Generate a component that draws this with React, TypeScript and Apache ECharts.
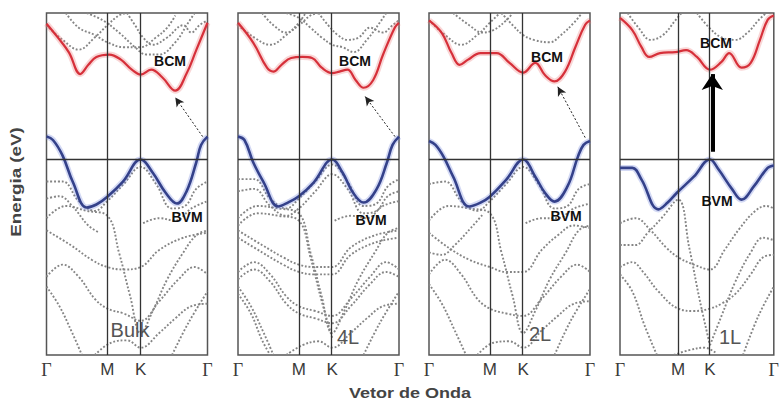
import React, { useEffect, useRef } from 'react';
import * as echarts from 'echarts';

// ---- axis / tick data ----
const kTicks = [0, 0.378, 0.585, 1];
const kLabels = ['Γ', 'M', 'K', 'Γ'];
const panelNames = ['Bulk', '4L', '2L', '1L'];
const eMin = -4;
const eMax = 3;
const fermiLevel = 0;

// ---- highlighted bands (k, E) ----
const cbmBulk = [[0, 2.78], [0.07, 2.5], [0.14, 2.19], [0.21, 1.75], [0.26, 1.94], [0.31, 2.1], [0.39, 2.15], [0.46, 2.05], [0.53, 1.84], [0.585, 1.74], [0.65, 1.84], [0.72, 1.68], [0.8, 1.41], [0.87, 1.76], [0.93, 2.24], [1, 2.8]];
const vbmBulk = [[0, 0.47], [0.04, 0.4], [0.1, 0.08], [0.165, -0.47], [0.25, -0.98], [0.31, -0.92], [0.378, -0.76], [0.475, -0.45], [0.585, 0], [0.66, -0.27], [0.74, -0.68], [0.81, -0.9], [0.87, -0.65], [0.93, -0.06], [0.96, 0.3], [1, 0.47]];
const cbm4L = [[0, 2.8], [0.095, 2.39], [0.18, 1.88], [0.22, 1.8], [0.27, 1.94], [0.33, 2.08], [0.4, 2.1], [0.46, 2.08], [0.52, 1.88], [0.585, 1.77], [0.63, 1.8], [0.68, 1.84], [0.73, 1.63], [0.78, 1.47], [0.84, 1.63], [0.9, 2.14], [0.975, 2.71], [1, 2.8]];
const vbm4L = [[0, 0.47], [0.04, 0.4], [0.095, -0.06], [0.16, -0.47], [0.25, -0.96], [0.31, -0.88], [0.378, -0.75], [0.47, -0.47], [0.585, 0], [0.65, -0.27], [0.715, -0.68], [0.78, -0.88], [0.86, -0.61], [0.925, -0.06], [0.96, 0.3], [1, 0.47]];
const cbm2L = [[0, 2.85], [0.08, 2.59], [0.14, 2.18], [0.19, 1.94], [0.24, 2.04], [0.32, 2.18], [0.42, 2.18], [0.5, 1.98], [0.585, 1.78], [0.66, 1.98], [0.72, 1.73], [0.78, 1.6], [0.845, 1.8], [0.91, 2.31], [0.97, 2.76], [1, 2.85]];
const vbm2L = [[0, 0.38], [0.04, 0.3], [0.09, 0.06], [0.15, -0.35], [0.25, -0.96], [0.32, -0.88], [0.378, -0.76], [0.48, -0.41], [0.585, 0], [0.66, -0.35], [0.72, -0.68], [0.78, -0.86], [0.86, -0.55], [0.925, 0.06], [0.96, 0.3], [1, 0.38]];
const cbm1L = [[0, 2.9], [0.08, 2.65], [0.14, 2.3], [0.19, 2.1], [0.26, 2.18], [0.36, 2.2], [0.43, 2.24], [0.5, 2.1], [0.585, 1.84], [0.66, 2.0], [0.71, 2.18], [0.79, 1.88], [0.85, 1.98], [0.91, 2.45], [0.96, 2.86], [1, 2.95]];
const vbm1L = [[0, -0.17], [0.08, -0.17], [0.14, -0.41], [0.25, -1.02], [0.31, -0.88], [0.37, -0.68], [0.48, -0.35], [0.585, 0], [0.64, -0.2], [0.73, -0.61], [0.79, -0.82], [0.87, -0.55], [0.96, -0.17], [1, -0.12]];

// ---- other (grey) bands ----
const greyBulk = [
  [[0, -0.45], [0.1, -0.45], [0.2, -0.85], [0.3, -1.05], [0.378, -0.85], [0.48, -0.5], [0.585, -0.15], [0.68, -0.5], [0.78, -1.0], [0.86, -0.95], [0.93, -0.6], [1, -0.45]],
  [[0, -0.8], [0.08, -0.75], [0.16, -0.95], [0.26, -1.35], [0.33, -1.5]],
  [[0, -1.2], [0.12, -0.95], [0.25, -1.05], [0.378, -1.15], [0.45, -1.9], [0.52, -2.8], [0.585, -3.55], [0.66, -3.1], [0.75, -2.45], [0.85, -1.9], [0.93, -1.55], [1, -1.45]],
  [[0, -1.45], [0.15, -1.75], [0.28, -2.05], [0.378, -2.2], [0.48, -2.25], [0.585, -2.2], [0.7, -1.85], [0.85, -1.6], [1, -1.5]],
  [[0.6, -1.3], [0.7, -1.2], [0.8, -1.25], [0.9, -1.0], [1, -0.85]],
  [[0, -2.4], [0.1, -2.15], [0.2, -2.4], [0.3, -2.85], [0.378, -3.05], [0.48, -3.15], [0.585, -3.3], [0.7, -2.9], [0.82, -2.45], [0.92, -2.2], [1, -2.35]],
  [[0, -2.6], [0.08, -3.0], [0.16, -3.55], [0.22, -4.0]],
  [[0.78, -4.0], [0.88, -3.35], [1, -2.7]],
  [[0.3, -4.0], [0.4, -3.75], [0.5, -3.7], [0.585, -3.85], [0.7, -3.55], [0.8, -3.25], [0.9, -3.0], [1, -2.95]],
  [[0, 2.75], [0.1, 2.45], [0.2, 2.25], [0.3, 2.5], [0.378, 2.75], [0.45, 2.95], [0.5, 3.0]],
  [[0.12, 3.0], [0.2, 2.7], [0.3, 2.55], [0.378, 2.4], [0.48, 2.3], [0.585, 2.3], [0.68, 2.5], [0.75, 2.7], [0.8, 2.95]],
  [[0.5, 3.0], [0.55, 2.75], [0.6, 2.5], [0.66, 2.35], [0.75, 2.5], [0.85, 2.75], [0.9, 2.6], [0.95, 2.75], [1, 2.85]],
  [[0.25, 3.0], [0.35, 2.85], [0.45, 2.6], [0.55, 2.3], [0.62, 2.15], [0.7, 2.15], [0.8, 2.4], [0.88, 2.8], [0.92, 3.0]],
];
const grey4L = [
  [[0, -0.4], [0.1, -0.4], [0.2, -0.8], [0.3, -1.0], [0.378, -0.8], [0.48, -0.45], [0.585, -0.1], [0.68, -0.45], [0.78, -0.95], [0.86, -0.9], [0.93, -0.55], [1, -0.4]],
  [[0, -0.65], [0.1, -0.6], [0.2, -0.95], [0.3, -1.15], [0.378, -1.0], [0.48, -0.65], [0.585, -0.3], [0.68, -0.6], [0.78, -1.1], [0.86, -1.05], [0.93, -0.75], [1, -0.65]],
  [[0, -1.2], [0.12, -0.95], [0.25, -1.0], [0.378, -1.1], [0.45, -1.9], [0.52, -2.8], [0.585, -3.55], [0.66, -3.1], [0.75, -2.45], [0.85, -1.9], [0.93, -1.5], [1, -1.4]],
  [[0, -1.35], [0.12, -1.1], [0.25, -1.15], [0.378, -1.25], [0.45, -2.0], [0.52, -2.9], [0.585, -3.65]],
  [[0, -1.45], [0.15, -1.75], [0.28, -2.0], [0.378, -2.15], [0.48, -2.2], [0.585, -2.2], [0.7, -1.8], [0.85, -1.55], [1, -1.45]],
  [[0, -1.6], [0.15, -1.9], [0.28, -2.15], [0.378, -2.3], [0.48, -2.35], [0.585, -2.35], [0.7, -1.95], [0.85, -1.7], [1, -1.6]],
  [[0.6, -1.25], [0.7, -1.15], [0.8, -1.2], [0.9, -0.95], [1, -0.85]],
  [[0, -2.3], [0.1, -2.1], [0.2, -2.35], [0.3, -2.8], [0.378, -3.0], [0.48, -3.1], [0.585, -3.2], [0.7, -2.85], [0.82, -2.4], [0.92, -2.1], [1, -2.25]],
  [[0, -2.45], [0.1, -2.25], [0.2, -2.5], [0.3, -2.95], [0.378, -3.15], [0.48, -3.25], [0.585, -3.35], [0.7, -3.0], [0.82, -2.55], [0.92, -2.3], [1, -2.4]],
  [[0, -2.6], [0.08, -3.0], [0.16, -3.55], [0.22, -4.0]],
  [[0, -2.75], [0.08, -3.15], [0.15, -3.7], [0.2, -4.0]],
  [[0.78, -4.0], [0.88, -3.35], [1, -2.7]],
  [[0.3, -4.0], [0.4, -3.8], [0.5, -3.72], [0.585, -3.85], [0.7, -3.55], [0.8, -3.25], [0.9, -3.0], [1, -2.95]],
  [[0, 2.75], [0.1, 2.5], [0.2, 2.35], [0.3, 2.55], [0.378, 2.8], [0.42, 3.0]],
  [[0.15, 3.0], [0.22, 2.75], [0.3, 2.6], [0.378, 2.75], [0.45, 2.95], [0.5, 3.0]],
  [[0.3, 3.0], [0.378, 2.9], [0.45, 2.7], [0.52, 2.5], [0.585, 2.35], [0.65, 2.3], [0.72, 2.2], [0.8, 2.45], [0.88, 2.8], [0.92, 3.0]],
  [[0.5, 3.0], [0.56, 2.75], [0.62, 2.55], [0.68, 2.45], [0.75, 2.5], [0.82, 2.7], [0.9, 2.6], [0.96, 2.75], [1, 2.85]],
];
const grey2L = [
  [[0, -0.5], [0.1, -0.45], [0.2, -0.85], [0.3, -1.05], [0.378, -0.85], [0.48, -0.5], [0.585, -0.15], [0.68, -0.5], [0.78, -1.0], [0.86, -0.95], [0.93, -0.6], [1, -0.5]],
  [[0, -1.25], [0.12, -0.95], [0.25, -1.0], [0.378, -1.1], [0.45, -1.9], [0.52, -2.8], [0.585, -3.55], [0.66, -3.1], [0.75, -2.45], [0.85, -1.9], [0.93, -1.45], [1, -1.35]],
  [[0, -1.5], [0.12, -1.8], [0.25, -2.05], [0.378, -2.2], [0.48, -2.3], [0.585, -2.3], [0.7, -1.85], [0.8, -1.55], [0.9, -1.35], [1, -1.4]],
  [[0, -1.9], [0.08, -1.95], [0.16, -1.75], [0.26, -1.4], [0.34, -1.1]],
  [[0.6, -1.3], [0.7, -1.2], [0.8, -1.2], [0.9, -1.0], [1, -0.9]],
  [[0, -2.35], [0.1, -2.05], [0.2, -2.35], [0.3, -2.85], [0.378, -3.05], [0.48, -3.15], [0.585, -3.2], [0.7, -2.85], [0.82, -2.4], [0.92, -2.15], [1, -2.3]],
  [[0, -2.55], [0.08, -2.95], [0.16, -3.5], [0.23, -4.0]],
  [[0.78, -4.0], [0.88, -3.3], [1, -2.65]],
  [[0.3, -4.0], [0.4, -3.75], [0.5, -3.72], [0.585, -3.85], [0.7, -3.5], [0.8, -3.2], [0.9, -2.95], [1, -2.9]],
  [[0, 2.85], [0.1, 2.55], [0.2, 2.35], [0.3, 2.55], [0.378, 2.8], [0.44, 3.0]],
  [[0.15, 3.0], [0.25, 2.75], [0.33, 2.6], [0.4, 2.65], [0.48, 2.85], [0.52, 3.0]],
  [[0.45, 3.0], [0.52, 2.75], [0.585, 2.55], [0.65, 2.45], [0.75, 2.4], [0.82, 2.55], [0.9, 2.8], [0.95, 3.0]],
];
const grey1L = [
  [[0, -1.3], [0.1, -1.2], [0.2, -1.45], [0.3, -1.8], [0.378, -2.0], [0.48, -2.15], [0.585, -2.25], [0.68, -1.85], [0.78, -1.4], [0.88, -1.05], [0.95, -0.95], [1, -1.0]],
  [[0, -1.75], [0.1, -1.75], [0.18, -1.5], [0.27, -1.2], [0.378, -0.82], [0.45, -1.8], [0.52, -2.9], [0.585, -3.8]],
  [[0.585, -3.8], [0.66, -3.2], [0.75, -2.5], [0.85, -1.9], [0.93, -1.6], [1, -1.65]],
  [[0, -2.2], [0.08, -2.1], [0.15, -2.3], [0.25, -2.7], [0.378, -3.05], [0.48, -3.1], [0.585, -3.05], [0.66, -2.95], [0.75, -2.75], [0.85, -2.35], [0.93, -2.0], [1, -1.95]],
  [[0, -2.35], [0.08, -2.7], [0.16, -3.4], [0.24, -4.0]],
  [[0.8, -4.0], [0.9, -3.2], [1, -2.6]],
  [[0.35, -4.0], [0.45, -3.9], [0.55, -3.85], [0.62, -3.95]],
  [[0.05, 3.0], [0.12, 2.7], [0.2, 2.45], [0.28, 2.55], [0.36, 2.85], [0.4, 3.0]],
  [[0.5, 3.0], [0.58, 2.7], [0.66, 2.5], [0.75, 2.45], [0.83, 2.6], [0.9, 2.85], [0.95, 3.0]],
];

// arrows (tail -> head) in (k, E)
const arrowTails = [[0.97, 0.47], [0.975, 0.47], [0.97, 0.45], [0.6, 0.16]];
const arrowHeads = [[0.8, 1.27], [0.79, 1.29], [0.8, 1.49], [0.6, 1.75]];

const cbmAll = [cbmBulk, cbm4L, cbm2L, cbm1L];
const vbmAll = [vbmBulk, vbm4L, vbm2L, vbm1L];
const greyAll = [greyBulk, grey4L, grey2L, grey1L];

// ---- layout ----
const gridLefts = [46.5, 238, 429, 620];
const gridWidth = 161;
const gridTop = 13;
const gridHeight = 342;
const bcmPos = [[170, 61], [355, 61], [547, 57], [716, 43]];
const bvmPos = [[187, 217], [371, 220], [566, 216], [717, 201]];
const namePos = [[130, 330], [348, 337], [540, 334], [730, 337]];

const FONT = 'Liberation Sans, Arial, sans-serif';

function buildOption() {
  const grid: any[] = [];
  const xAxis: any[] = [];
  const yAxis: any[] = [];
  const series: any[] = [];
  const graphic: any[] = [];

  for (let i = 0; i < 4; i++) {
    grid.push({
      left: gridLefts[i], top: gridTop, width: gridWidth, height: gridHeight,
      show: true, borderColor: '#555', borderWidth: 1.5, backgroundColor: '#fff',
    });
    xAxis.push({
      gridIndex: i, type: 'value', min: 0, max: 1,
      axisLine: { show: false }, axisTick: { show: false }, splitLine: { show: false },
      axisLabel: {
        customValues: kTicks,
        hideOverlap: false,
        margin: 6,
        color: '#3a3a3a',
        fontSize: 17,
        fontFamily: FONT,
        formatter: (v: number) => {
          let idx = 0;
          for (let j = 0; j < kTicks.length; j++) if (Math.abs(kTicks[j] - v) < 1e-6) idx = j;
          const t = kLabels[idx];
          return t === 'Γ' ? '{g|Γ}' : t;
        },
        rich: { g: { fontFamily: 'Liberation Serif, serif', fontSize: 18, color: '#3a3a3a' } },
      },
    });
    yAxis.push({ gridIndex: i, type: 'value', min: eMin, max: eMax, show: false });

    greyAll[i].forEach((band) => {
      series.push({
        type: 'line', xAxisIndex: i, yAxisIndex: i, data: band, showSymbol: false, smooth: 0.4,
        silent: true, z: 2, lineStyle: { color: '#858585', width: 1.9, type: 'dotted' },
      });
    });

    // glows
    series.push({
      type: 'line', xAxisIndex: i, yAxisIndex: i, data: cbmAll[i], showSymbol: false, smooth: 0.4,
      silent: true, z: 3, lineStyle: { color: 'rgba(235,120,120,0.3)', width: 6 },
      markLine: {
        silent: true, symbol: ['none', 'none'], label: { show: false },
        lineStyle: { color: '#333', width: 1.3, type: 'solid' },
        data: [{ xAxis: kTicks[1] }, { xAxis: kTicks[2] }, { yAxis: fermiLevel }],
      },
    });
    series.push({
      type: 'line', xAxisIndex: i, yAxisIndex: i, data: vbmAll[i], showSymbol: false, smooth: 0.4,
      silent: true, z: 3, lineStyle: { color: 'rgba(110,130,220,0.3)', width: 6 },
    });
    series.push({
      type: 'line', xAxisIndex: i, yAxisIndex: i, data: cbmAll[i], showSymbol: false, smooth: 0.4,
      silent: true, z: 4, lineStyle: { color: '#d6303a', width: 2.2 },
    });
    const thick = i === 3;
    series.push({
      type: 'line', xAxisIndex: i, yAxisIndex: i, data: vbmAll[i], showSymbol: false, smooth: 0.4,
      silent: true, z: 4, lineStyle: { color: '#34418a', width: 2.6 },
      markLine: {
        silent: true, symbol: ['none', 'arrow'],
        symbolSize: thick ? [16, 16] : [7, 9],
        label: { show: false },
        lineStyle: thick ? { color: '#000', width: 4, type: 'solid' } : { color: '#222', width: 1, type: [2, 2] },
        data: [[{ coord: arrowTails[i] }, { coord: arrowHeads[i] }]],
      },
    });

    graphic.push({
      type: 'text', x: bcmPos[i][0], y: bcmPos[i][1], z: 100,
      style: { text: 'BCM', font: `bold 14px ${FONT}`, fill: '#111', align: 'center', verticalAlign: 'middle' },
    });
    graphic.push({
      type: 'text', x: bvmPos[i][0], y: bvmPos[i][1], z: 100,
      style: { text: 'BVM', font: `bold 14px ${FONT}`, fill: '#111', align: 'center', verticalAlign: 'middle' },
    });
    graphic.push({
      type: 'text', x: namePos[i][0], y: namePos[i][1], z: 100,
      style: { text: panelNames[i], font: `20px ${FONT}`, fill: '#555', align: 'center', verticalAlign: 'middle' },
    });
  }

  graphic.push({
    type: 'text', x: 16, y: 182, rotation: Math.PI / 2, scaleX: 1.25, z: 100,
    style: { text: 'Energia (eV)', font: `bold 15px ${FONT}`, fill: '#444', align: 'center', verticalAlign: 'middle' },
  });
  graphic.push({
    type: 'text', x: 410, y: 393, scaleX: 1.2, z: 100,
    style: { text: 'Vetor de Onda', font: `bold 15px ${FONT}`, fill: '#444', align: 'center', verticalAlign: 'middle' },
  });

  return {
    animation: false,
    backgroundColor: '#fff',
    textStyle: { fontFamily: FONT },
    grid, xAxis, yAxis, series, graphic,
  };
}

export default function App() {
  const ref = useRef<HTMLDivElement>(null);
  useEffect(() => {
    if (!ref.current) return;
    const chart = echarts.init(ref.current, undefined, { renderer: 'svg' });
    chart.setOption(buildOption() as any);
    return () => chart.dispose();
  }, []);
  return <div ref={ref} style={{ position: 'absolute', left: 0, top: 0, width: 782, height: 407 }} />;
}
